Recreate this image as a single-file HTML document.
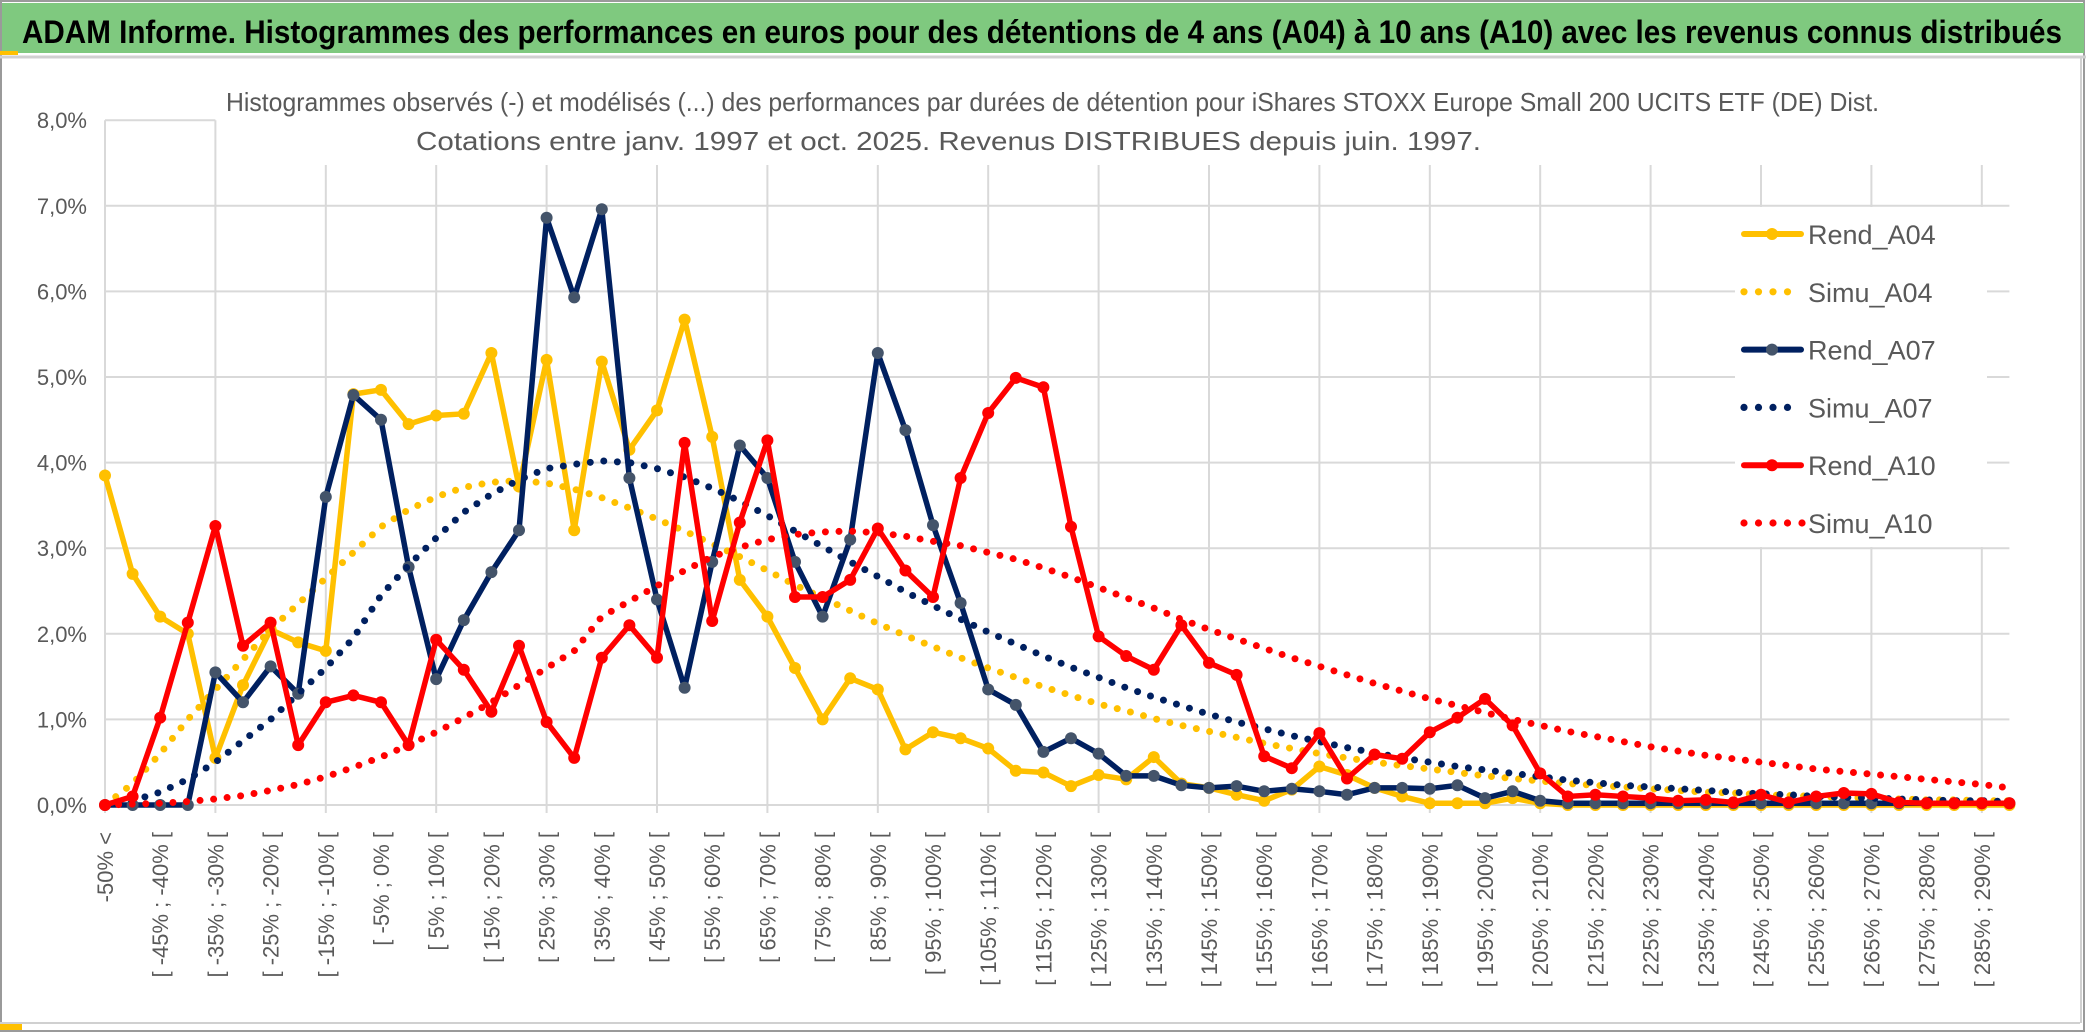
<!DOCTYPE html>
<html><head><meta charset="utf-8"><style>
html,body{margin:0;padding:0;background:#fff;}
svg{display:block;font-family:"Liberation Sans",sans-serif;}
</style></head><body>
<svg id="chart" width="2086" height="1033" viewBox="0 0 2086 1033" xmlns="http://www.w3.org/2000/svg">
<rect x="0" y="0" width="2086" height="1033" fill="#fff"/>
<rect x="1" y="1" width="2083" height="1030" fill="none" stroke="#9a9a9a" stroke-width="2"/>
<rect x="2" y="3" width="2082" height="50" fill="#7fc97f"/>
<line x1="0" y1="57" x2="2086" y2="57" stroke="#d0d0d0" stroke-width="3"/>
<rect x="0" y="51" width="18" height="4" fill="#ffc000"/>
<text x="22" y="43" font-size="32" font-weight="bold" fill="#000" textLength="2040" lengthAdjust="spacingAndGlyphs">ADAM Informe. Histogrammes des performances en euros pour des détentions de 4 ans (A04) à 10 ans (A10) avec les revenus connus distribués</text>
<line x1="0" y1="1023" x2="2080" y2="1023" stroke="#d0d0d0" stroke-width="2"/>
<line x1="2081" y1="57" x2="2081" y2="1023" stroke="#d0d0d0" stroke-width="2"/>
<rect x="0" y="1024" width="22" height="6" fill="#ffc000"/>
<g id="grid"></g>
<g id="yaxis"></g>
<g id="xaxis"></g>
<text x="226" y="111" font-size="26" fill="#595959" textLength="1653" lengthAdjust="spacingAndGlyphs">Histogrammes observés (-) et modélisés (...) des performances par durées de détention pour iShares STOXX Europe Small 200 UCITS ETF (DE) Dist.</text>
<text x="416" y="150" font-size="26" fill="#595959" textLength="1065" lengthAdjust="spacingAndGlyphs">Cotations entre janv. 1997 et oct. 2025. Revenus DISTRIBUES depuis juin. 1997.</text>
<g id="series"></g>
<g id="legend"></g>
</svg>
<script>
const rendA04 = [3.85,2.7,2.2,2.0,0.55,1.4,2.05,1.9,1.8,4.8,4.85,4.45,4.55,4.57,5.28,3.72,5.2,3.21,5.18,4.15,4.61,5.67,4.3,2.63,2.2,1.6,1.0,1.48,1.35,0.65,0.85,0.78,0.66,0.4,0.38,0.22,0.35,0.3,0.56,0.25,0.2,0.12,0.05,0.18,0.45,0.35,0.2,0.1,0.02,0.02,0.02,0.08,0.02,0,0,0,0,0,0,0,0,0,0,0,0,0,0,0,0,0];
const simuA04 = [0,0.25,0.6,1.0,1.35,1.7,2.05,2.35,2.65,2.95,3.25,3.45,3.6,3.71,3.77,3.79,3.76,3.69,3.59,3.47,3.34,3.2,3.05,2.9,2.74,2.57,2.42,2.27,2.12,1.98,1.85,1.72,1.6,1.49,1.38,1.28,1.18,1.1,1.01,0.93,0.86,0.79,0.72,0.66,0.6,0.55,0.5,0.46,0.42,0.38,0.34,0.31,0.28,0.25,0.23,0.21,0.19,0.17,0.15,0.14,0.12,0.11,0.1,0.09,0.08,0.07,0.06,0.06,0.05,0.05];
const rendA07 = [0,0,0,0,1.55,1.2,1.62,1.3,3.6,4.79,4.5,2.78,1.47,2.16,2.72,3.21,6.86,5.93,6.96,3.82,2.4,1.37,2.84,4.2,3.82,2.84,2.2,3.1,5.28,4.38,3.27,2.36,1.35,1.17,0.62,0.78,0.6,0.34,0.34,0.23,0.2,0.22,0.16,0.19,0.16,0.12,0.2,0.2,0.19,0.23,0.08,0.16,0.05,0.02,0.02,0.02,0.02,0.02,0.02,0.02,0.02,0.02,0.02,0.02,0.02,0.02,0.02,0.02,0.02,0.02];
const simuA07 = [0,0.05,0.15,0.3,0.5,0.75,1.0,1.3,1.6,1.95,2.45,2.8,3.12,3.42,3.63,3.8,3.93,3.98,4.02,4.0,3.93,3.83,3.7,3.55,3.38,3.2,3.02,2.84,2.67,2.49,2.33,2.17,2.02,1.88,1.74,1.61,1.49,1.37,1.26,1.16,1.06,0.97,0.89,0.81,0.74,0.67,0.61,0.55,0.5,0.45,0.41,0.37,0.33,0.29,0.26,0.23,0.21,0.19,0.17,0.15,0.13,0.12,0.1,0.09,0.08,0.07,0.06,0.05,0.05,0.04];
const rendA10 = [0,0.1,1.02,2.13,3.26,1.86,2.13,0.7,1.2,1.28,1.2,0.7,1.93,1.58,1.09,1.86,0.97,0.55,1.72,2.1,1.72,4.23,2.15,3.3,4.26,2.43,2.43,2.63,3.23,2.74,2.43,3.82,4.58,4.99,4.88,3.25,1.97,1.74,1.58,2.1,1.66,1.52,0.57,0.43,0.84,0.31,0.59,0.54,0.85,1.02,1.24,0.93,0.37,0.1,0.12,0.1,0.08,0.05,0.06,0.03,0.12,0.03,0.1,0.14,0.13,0.03,0.02,0.02,0.02,0.02];
const simuA10 = [0,0.01,0.02,0.04,0.07,0.11,0.17,0.24,0.33,0.44,0.56,0.7,0.85,1.02,1.2,1.4,1.6,1.8,2.2,2.38,2.56,2.74,2.9,3.01,3.1,3.16,3.19,3.2,3.18,3.14,3.08,3.03,2.95,2.87,2.77,2.66,2.54,2.42,2.3,2.17,2.05,1.94,1.83,1.72,1.62,1.52,1.42,1.33,1.24,1.16,1.08,1.0,0.93,0.86,0.8,0.74,0.68,0.63,0.58,0.54,0.5,0.46,0.42,0.39,0.36,0.33,0.3,0.27,0.24,0.2];
const yTicks = [0,1,2,3,4,5,6,7,8];
const seriesNames = ["Rend_A04","Simu_A04","Rend_A07","Simu_A07","Rend_A10","Simu_A10"];

const NS = "http://www.w3.org/2000/svg";
const N = rendA04.length;
const X0 = 105, DX = 27.6, Y0 = 805, DY = 85.6;
function xPos(i){ return X0 + i*DX; }
function yPos(v){ return Y0 - v*DY; }
function mk(tag, attrs, parent){ const e=document.createElementNS(NS,tag); for(const k in attrs) e.setAttribute(k,attrs[k]); parent.appendChild(e); return e; }
function catLabel(i){ if(i===0) return "-50% <"; const a=-55+5*i; return "[ "+a+"% ; "+(a+5)+"% ["; }

const grid = document.getElementById('grid');
const XR = xPos(N-1);
yTicks.forEach(t=>{
  const l = mk('line',{x1:X0,x2:(t===8?X0+4*DX:XR),y1:yPos(t),y2:yPos(t),stroke:'#d9d9d9','stroke-width':2},grid);
  
  
});
for(let i=0;i<N;i+=4){
  const top = (i<=4)?yPos(8):165;
  const l = mk('line',{x1:xPos(i),x2:xPos(i),y1:top,y2:Y0+8,stroke:'#d9d9d9','stroke-width':2},grid);
  
  
}
const yaxis = document.getElementById('yaxis');
yTicks.forEach(t=>{
  const tx = mk('text',{x:87,y:yPos(t)+8,'text-anchor':'end','font-size':22,fill:'#595959'},yaxis);
  tx.textContent = t.toFixed(1).replace('.',',')+'%';
  
  
});
const xaxis = document.getElementById('xaxis');
for(let i=0;i<N;i+=2){
  const x = xPos(i)+8, y = 832;
  const tx = mk('text',{x:x,y:y,'text-anchor':'end','font-size':22,fill:'#595959',transform:'rotate(-90 '+x+' '+y+')'},xaxis);
  tx.textContent = catLabel(i);
  
  
}

const seriesG = document.getElementById('series');
function drawSolid(vals,color,mcolor,name){
  const g = mk('g',{},seriesG);
  
  
  const pts = vals.map((v,i)=>xPos(i)+','+yPos(v)).join(' ');
  const pl = mk('polyline',{points:pts,fill:'none',stroke:color,'stroke-width':5.5,'stroke-linejoin':'round','stroke-linecap':'round'},g);
  
  
  vals.forEach((v,i)=>{
    const c = mk('circle',{cx:xPos(i),cy:yPos(v),r:6,fill:mcolor},g);
    
    
  });
}
function drawDotted(vals,color,name){
  const pts = vals.map((v,i)=>xPos(i)+','+yPos(v)).join(' ');
  const pl = mk('polyline',{points:pts,fill:'none',stroke:color,'stroke-width':7,'stroke-linecap':'round','stroke-dasharray':'0 13.6'},seriesG);
  
  
}
drawSolid(rendA04,'#ffc000','#ffc000','rend-a04-series');
drawDotted(simuA04,'#ffc000','simu-a04-series');
drawSolid(rendA07,'#002060','#44546a','rend-a07-series');
drawDotted(simuA07,'#002060','simu-a07-series');
drawSolid(rendA10,'#ff0000','#ff0000','rend-a10-series');
drawDotted(simuA10,'#ff0000','simu-a10-series');

const legend = document.getElementById('legend');
const lbg = mk('rect',{x:1735,y:207,width:252,height:340,fill:'#fff'},legend);


const lColors = ['#ffc000','#ffc000','#002060','#002060','#ff0000','#ff0000'];
const lMark = ['#ffc000',null,'#44546a',null,'#ff0000',null];
seriesNames.forEach((nm,k)=>{
  const y = 234 + k*57.8;
  const g = mk('g',{},legend);
  
  
  if(k%2===0){
    mk('line',{x1:1744,x2:1801,y1:y,y2:y,stroke:lColors[k],'stroke-width':6,'stroke-linecap':'round'},g);
    mk('circle',{cx:1772,cy:y,r:6,fill:lMark[k]},g);
  } else {
    const nd = (k===5)?5:4;
    for(let d=0;d<nd;d++) mk('circle',{cx:1744+d*14.5,cy:y,r:3.6,fill:lColors[k]},g);
  }
  const t = mk('text',{x:1808,y:y+10,'font-size':27,fill:'#595959'},g);
  t.textContent = nm;
});
</script>
</body></html>
